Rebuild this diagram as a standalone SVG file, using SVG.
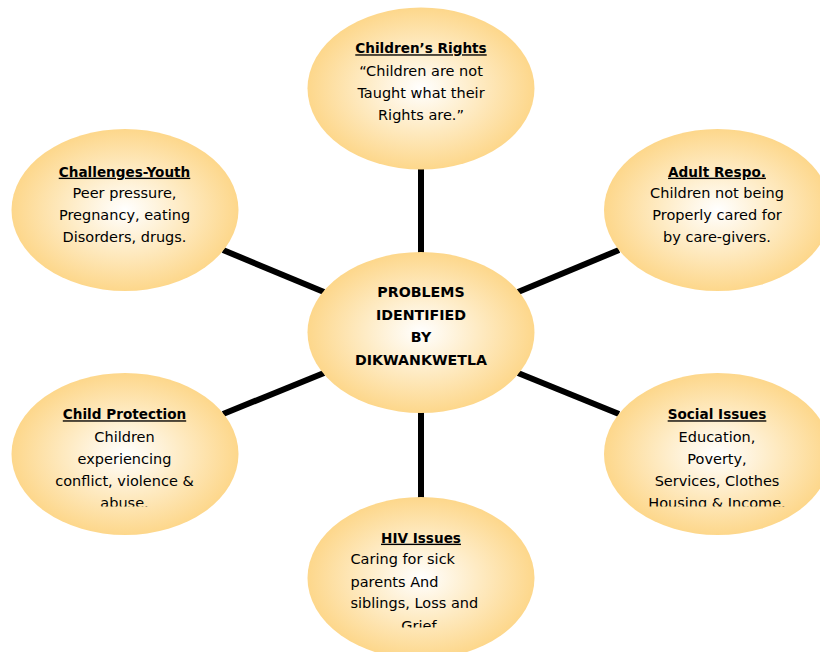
<svg xmlns="http://www.w3.org/2000/svg" width="820" height="652" viewBox="0 0 820 652">
  <defs>
    <radialGradient id="bubble" cx="0.5" cy="0.5" r="0.5">
      <stop offset="0" stop-color="#FFFFFF"/>
      <stop offset="0.5" stop-color="#FEEBC4"/>
      <stop offset="1" stop-color="#FDD78B"/>
    </radialGradient>
    <clipPath id="clip-protection"><rect x="0" y="380" width="250" height="126.5"/></clipPath>
    <clipPath id="clip-social"><rect x="590" y="380" width="230" height="126.5"/></clipPath>
    <clipPath id="clip-hiv"><rect x="300" y="500" width="240" height="127.5"/></clipPath>
    <style>
      .bubble { fill: url(#bubble); }
      .link { stroke: #000000; stroke-width: 6; fill: none; }
      text { font-family: "DejaVu Sans", "Liberation Sans", sans-serif; font-size: 14.5px; fill: #000000; text-anchor: middle; }
      .head { font-weight: bold; font-size: 13.6px; text-decoration: underline; }
      .hub { font-weight: bold; font-size: 14.2px; }
      .left { text-anchor: start; }
    </style>
  </defs>

  <rect width="820" height="652" fill="#FFFFFF"/>

  <!-- spokes from the hub to each topic -->
  <g id="connectors">
    <line class="link" x1="421" y1="168" x2="421" y2="254"/>
    <line class="link" x1="421" y1="411" x2="421" y2="499"/>
    <line class="link" x1="223" y1="250" x2="324" y2="292"/>
    <line class="link" x1="619" y1="250" x2="518" y2="292"/>
    <line class="link" x1="223" y1="414" x2="324" y2="373"/>
    <line class="link" x1="619" y1="414" x2="518" y2="373"/>
  </g>

  <g id="hub">
    <ellipse class="bubble" cx="421" cy="332.5" rx="113.5" ry="80.5"/>
    <text class="hub" x="421" y="297.3">PROBLEMS</text>
    <text class="hub" x="421" y="320">IDENTIFIED</text>
    <text class="hub" x="421" y="341.7">BY</text>
    <text class="hub" x="421" y="365">DIKWANKWETLA</text>
  </g>

  <g id="childrens-rights">
    <ellipse class="bubble" cx="421" cy="88.5" rx="113.5" ry="81"/>
    <text class="head" x="421" y="53.3">Children’s Rights</text>
    <text x="421" y="76">“Children are not</text>
    <text x="421" y="98">Taught what their</text>
    <text x="421" y="120">Rights are.”</text>
  </g>

  <g id="adult-respo">
    <ellipse class="bubble" cx="717.5" cy="210" rx="113.5" ry="81"/>
    <text class="head" x="717" y="176.7">Adult Respo.</text>
    <text x="717" y="198.3">Children not being</text>
    <text x="717" y="220">Properly cared for</text>
    <text x="717" y="241.7">by care-givers.</text>
  </g>

  <g id="challenges-youth">
    <ellipse class="bubble" cx="125" cy="210" rx="113.5" ry="81"/>
    <text class="head" x="124.5" y="176.7">Challenges-Youth</text>
    <text x="124.5" y="198.3">Peer pressure,</text>
    <text x="124.5" y="220">Pregnancy, eating</text>
    <text x="124.5" y="241.7">Disorders, drugs.</text>
  </g>

  <g id="child-protection">
    <ellipse class="bubble" cx="125" cy="454" rx="113.5" ry="81"/>
    <g clip-path="url(#clip-protection)">
      <text class="head" x="124.5" y="419.3">Child Protection</text>
      <text x="124.5" y="441.7">Children</text>
      <text x="124.5" y="464">experiencing</text>
      <text x="124.5" y="486">conflict, violence &amp;</text>
      <text x="124.5" y="508.4">abuse.</text>
    </g>
  </g>

  <g id="social-issues">
    <ellipse class="bubble" cx="717.5" cy="454" rx="113.5" ry="81"/>
    <g clip-path="url(#clip-social)">
      <text class="head" x="717" y="419.3">Social Issues</text>
      <text x="717" y="441.7">Education,</text>
      <text x="717" y="464">Poverty,</text>
      <text x="717" y="486">Services, Clothes</text>
      <text x="717" y="508.4">Housing &amp; Income.</text>
    </g>
  </g>

  <g id="hiv-issues">
    <ellipse class="bubble" cx="421" cy="578" rx="113.5" ry="81"/>
    <g clip-path="url(#clip-hiv)">
      <text class="head" x="421" y="542.7">HIV Issues</text>
      <text class="left" x="350.5" y="564.3">Caring for sick</text>
      <text class="left" x="350.5" y="586.5">parents And</text>
      <text class="left" x="350.5" y="608.4">siblings, Loss and</text>
      <text x="419" y="630.5">Grief</text>
    </g>
  </g>
</svg>
